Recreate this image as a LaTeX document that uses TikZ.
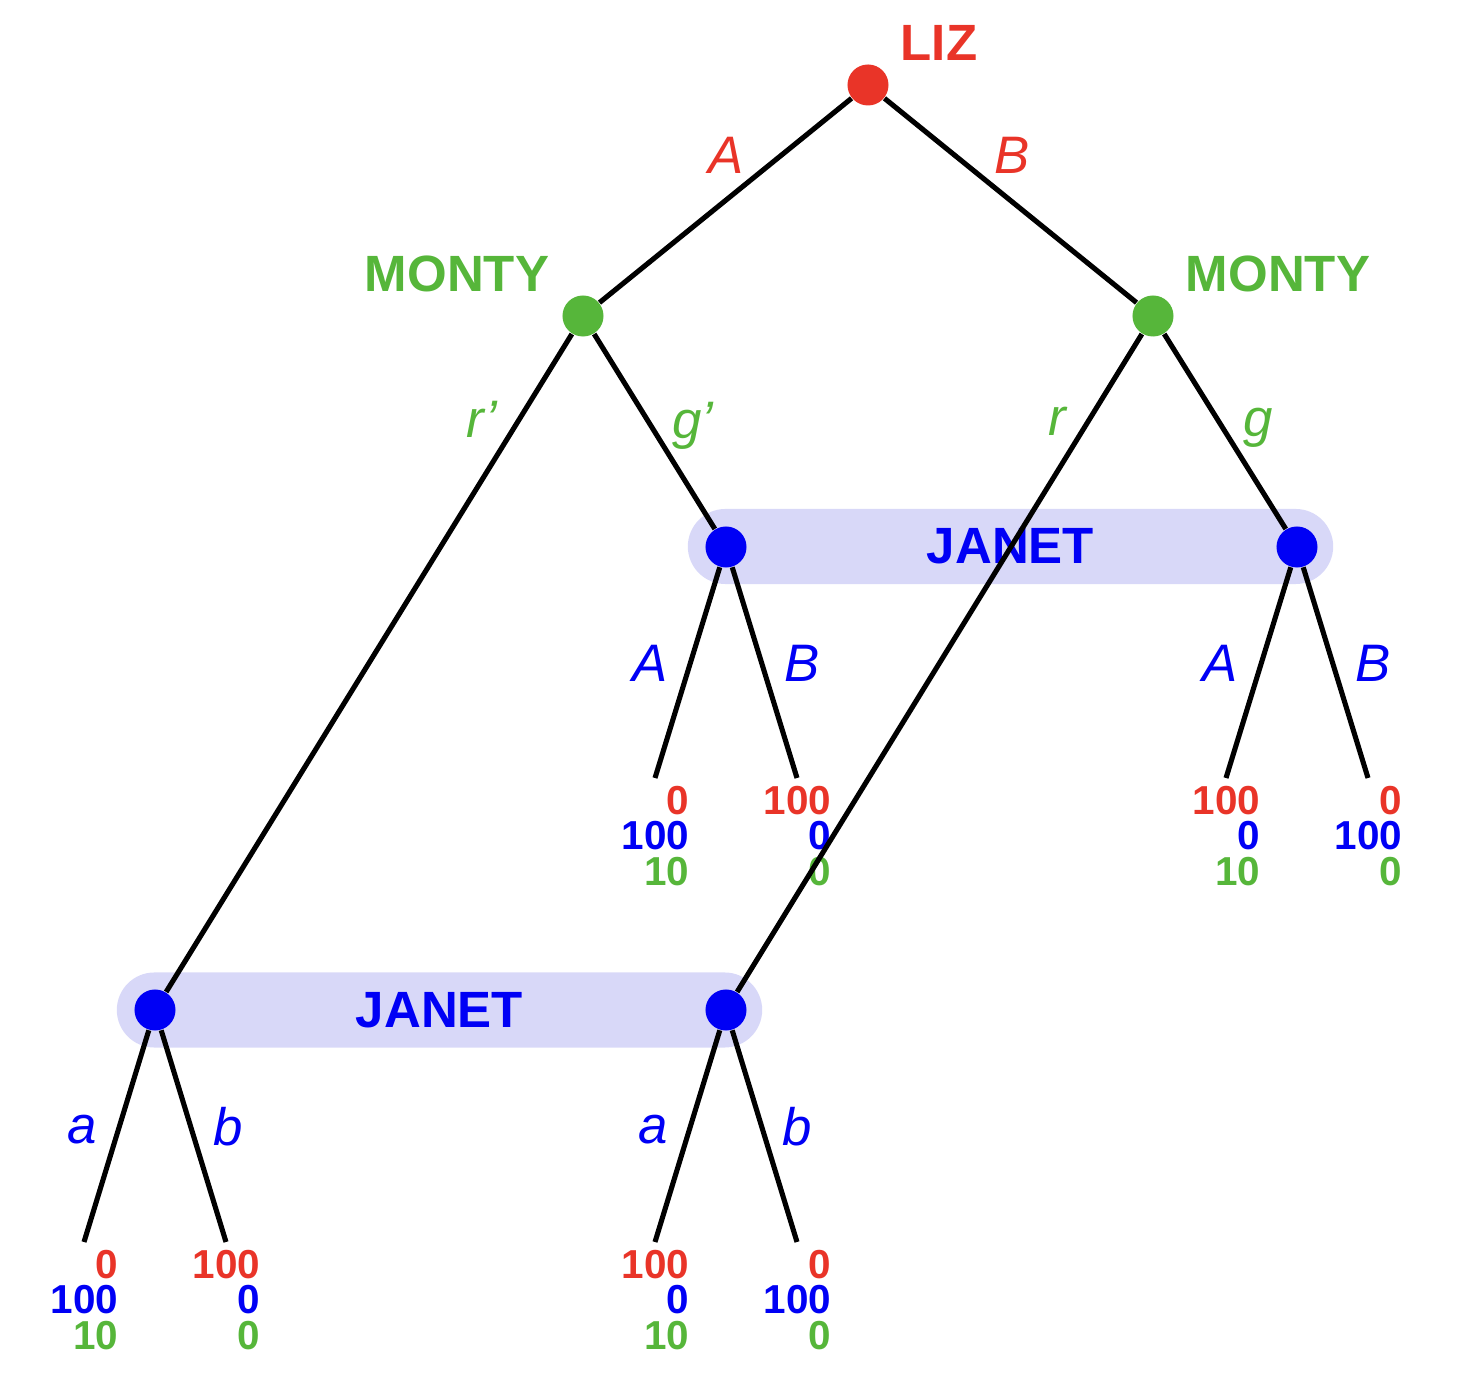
\documentclass[tikz,border=0pt]{standalone}
\usepackage{fontspec}
\setmainfont{Liberation Sans}
\definecolor{lizred}{RGB}{233,52,40}
\definecolor{montygreen}{RGB}{86,182,58}
\definecolor{janetblue}{RGB}{0,0,245}
\definecolor{bandcol}{RGB}{216,216,248}
\newcommand\payoffs[4]{%
  \node[pay,text=lizred] (#1r) at ([shift={(35,23)}]#1) {#2};
  \node[pay,text=janetblue] (#1b) at ([shift={(35,58)}]#1) {#3};
  \node[pay,text=montygreen] (#1g) at ([shift={(35,94)}]#1) {#4};
}
\begin{document}
\begin{tikzpicture}[x=0.01cm,y=-0.01cm,
  dot/.style={circle, inner sep=0pt, minimum size=0.41cm},
  edge/.style={line width=1.45pt, black},
  who/.style={font=\bfseries\fontsize{14.5}{17}\selectfont, inner sep=0pt},
  act/.style={font=\itshape\fontsize{15}{18}\selectfont, inner sep=0pt},
  pay/.style={font=\bfseries\fontsize{11.5}{13}\selectfont, inner sep=0pt, anchor=east},
  infoset/.style={fill=bandcol, rounded corners=0.375cm, minimum width=6.45cm, minimum height=0.75cm, inner sep=0pt, text=janetblue, font=\bfseries\fontsize{14.5}{17}\selectfont}]
\useasboundingbox (0,0) rectangle (1466,1386);
% information sets
\node[infoset] (set1) at (1010.5,546.5) {JANET};
\node[infoset] (set2) at (439.5,1010) {JANET};
% player labels
\node[who,text=lizred] (lizlab) at (939,43) {LIZ};
\node[who,text=montygreen] (mlab1) at (457,274) {MONTY};
\node[who,text=montygreen] (mlab2) at (1278,274) {MONTY};
% action labels
\node[act,text=lizred] (aA) at (726,155) {A};
\node[act,text=lizred] (aB) at (1012,155) {B};
\node[act,text=montygreen] (arp) at (482,419) {r’};
\node[act,text=montygreen] (agp) at (693,426) {g’};
\node[act,text=montygreen] (ar) at (1057,421) {r};
\node[act,text=montygreen] (ag) at (1258,428) {g};
\node[act,text=janetblue] (jA1) at (650,663) {A};
\node[act,text=janetblue] (jB1) at (802,663) {B};
\node[act,text=janetblue] (jA2) at (1220,663) {A};
\node[act,text=janetblue] (jB2) at (1373,663) {B};
\node[act,text=janetblue] (ja1) at (82,1130) {a};
\node[act,text=janetblue] (jb1) at (228,1127) {b};
\node[act,text=janetblue] (ja2) at (653,1130) {a};
\node[act,text=janetblue] (jb2) at (797,1127) {b};
% leaves
\coordinate (l1) at (655,778);
\coordinate (l2) at (797,778);
\coordinate (l3) at (1226,778);
\coordinate (l4) at (1368,778);
\coordinate (l5) at (84,1242);
\coordinate (l6) at (226,1242);
\coordinate (l7) at (655,1242);
\coordinate (l8) at (797,1242);
\payoffs{l1}{0}{100}{10}
\payoffs{l2}{100}{0}{0}
\payoffs{l3}{100}{0}{10}
\payoffs{l4}{0}{100}{0}
\payoffs{l5}{0}{100}{10}
\payoffs{l6}{100}{0}{0}
\payoffs{l7}{100}{0}{10}
\payoffs{l8}{0}{100}{0}
% decision nodes
\node[dot,fill=lizred] (liz) at (868,85) {};
\node[dot,fill=montygreen] (m1) at (583,316) {};
\node[dot,fill=montygreen] (m2) at (1153,316) {};
\node[dot,fill=janetblue] (j1) at (726,547) {};
\node[dot,fill=janetblue] (j2) at (1297,547) {};
\node[dot,fill=janetblue] (j3) at (155,1010) {};
\node[dot,fill=janetblue] (j4) at (726,1010) {};
% edges
\draw[edge] (liz) -- (m1);
\draw[edge] (liz) -- (m2);
\draw[edge] (m1) -- (j3);
\draw[edge] (m1) -- (j1);
\draw[edge] (m2) -- (j4);
\draw[edge] (m2) -- (j2);
\draw[edge] (j1) -- (l1);
\draw[edge] (j1) -- (l2);
\draw[edge] (j2) -- (l3);
\draw[edge] (j2) -- (l4);
\draw[edge] (j3) -- (l5);
\draw[edge] (j3) -- (l6);
\draw[edge] (j4) -- (l7);
\draw[edge] (j4) -- (l8);
\end{tikzpicture}
\end{document}
